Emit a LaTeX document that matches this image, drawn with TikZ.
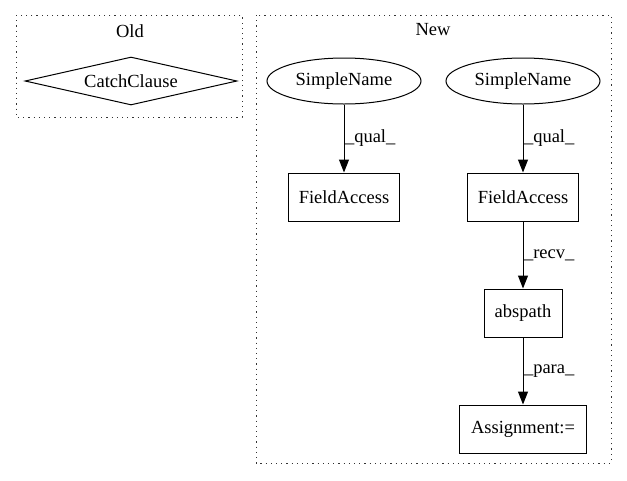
\documentclass[tikz,border=0pt]{standalone}
\usepackage{fontspec}
\setmainfont{Liberation Serif}
\usetikzlibrary{shapes.geometric,arrows.meta}

\begin{document}
\begin{tikzpicture}[x=1pt, y=-1pt, font=\fontsize{18.5}{20}\selectfont,
        boxnode/.style={rectangle, draw=black, line width=1pt, minimum height=48pt, inner sep=0pt},
        ellnode/.style={ellipse, draw=black, line width=1pt, minimum width=154pt, minimum height=46pt, inner sep=0pt},
        diamnode/.style={diamond, draw=black, line width=1pt, shape aspect=4.4, minimum width=212pt, minimum height=48pt, inner sep=0pt},
        clusterbox/.style={draw=black!80, line width=1pt, dash pattern=on 1.2pt off 4pt},
        edgelabel/.style={anchor=west, inner sep=0.5pt}]
        \useasboundingbox (0,0) rectangle (627,480);

        % clusters
        \draw[clusterbox] (16,15) rectangle (242,117);
        \node (old) at (130,31) {Old};
        \draw[clusterbox] (256,15) rectangle (611,463);
        \node (new) at (433,30) {New};

        \node [diamnode] at (131,81)  (catch)  {CatchClause};
        \node [ellnode]  at (344,81)  (name1)  {SimpleName};
        \node [ellnode]  at (523,81)  (name2)  {SimpleName};
        \node [boxnode, minimum width=111pt] at (344,197) (field1) {FieldAccess};
        \node [boxnode, minimum width=111pt] at (523,197) (field2) {FieldAccess};
        \node [boxnode, minimum width=78pt]  at (523,313) (abspath) {abspath};
        \node [boxnode, minimum width=127pt] at (523,429) (assign) {Assignment:=};

        \draw[line width=1pt, -{Triangle[length=13pt, width=10pt]}]
            (name1) edge node[edgelabel] {\_qual\_} (field1)
            (name2) edge node[edgelabel] {\_qual\_} (field2)
            (field2) edge node[edgelabel] {\_recv\_} (abspath)
            (abspath) edge node[edgelabel] {\_para\_} (assign);
    \end{tikzpicture}
\end{document}
